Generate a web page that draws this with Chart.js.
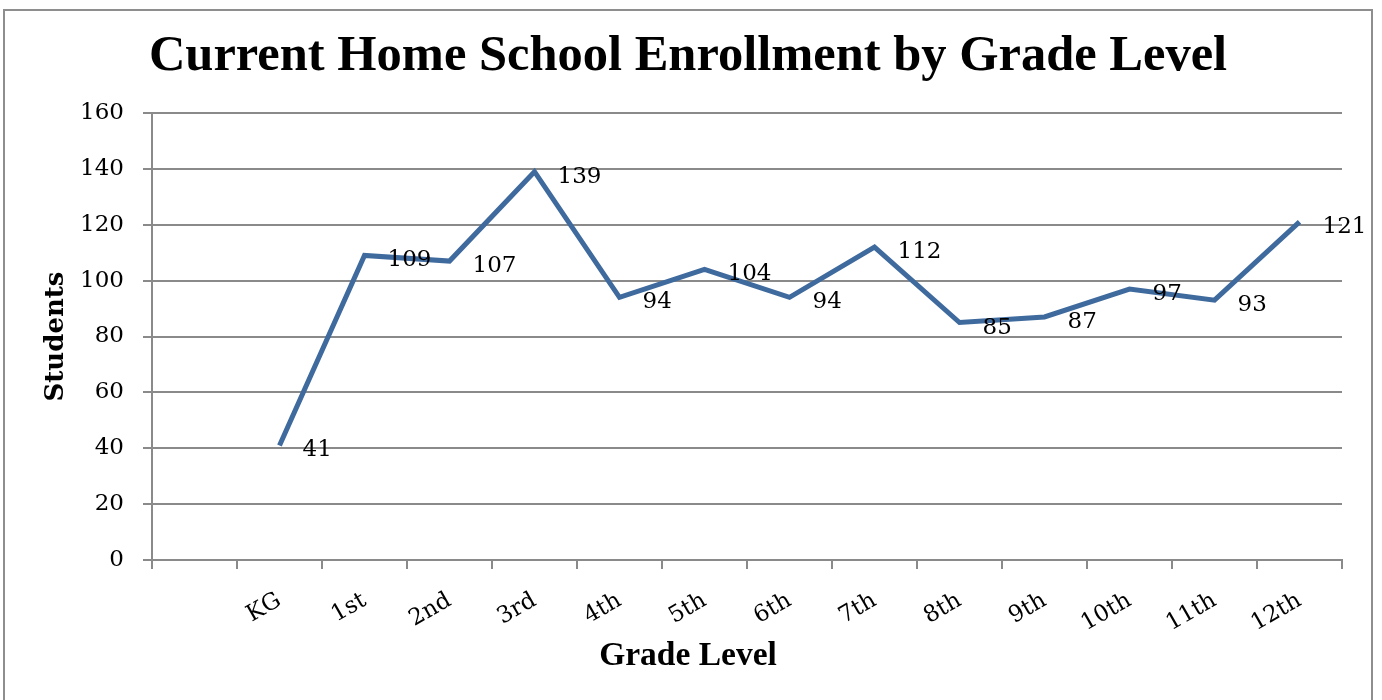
<!DOCTYPE html>
<html>
<head>
<meta charset="utf-8">
<title>Current Home School Enrollment by Grade Level</title>
<script src="https://cdn.jsdelivr.net/npm/chart.js@4/dist/chart.umd.min.js"></script>
<style>
  html, body { margin: 0; padding: 0; background: #fff; overflow: hidden; }
  #wrap { position: relative; width: 1382px; height: 700px; }
  #frame {
    position: absolute; left: 3px; top: 9px; width: 1366px; height: 760px;
    border: 2px solid #8e8e8e; pointer-events: none;
  }
</style>
</head>
<body>
<div id="wrap">
  <canvas id="chart"></canvas>
  <div id="frame"></div>
</div>
<script>
// ------- Data -------
// first slot is an empty category (the reference leaves a blank gap before KG)
const grades = ['', 'KG', '1st', '2nd', '3rd', '4th', '5th', '6th', '7th', '8th', '9th', '10th', '11th', '12th'];
const students = [null, 41, 109, 107, 139, 94, 104, 94, 112, 85, 87, 97, 93, 121];
const yTicks = [0, 20, 40, 60, 80, 100, 120, 140, 160];

const gridColor = '#8a8a8a';
const lineColor = '#3f6a9e';
const serif = '"DejaVu Serif", serif';
const timesLike = '"Liberation Serif", serif';

// value labels to the right of each point
const pointLabels = {
  id: 'pointLabels',
  afterDatasetsDraw(chart) {
    const ctx = chart.ctx;
    const meta = chart.getDatasetMeta(0);
    ctx.save();
    ctx.font = '23px ' + serif;
    ctx.fillStyle = '#000';
    ctx.textAlign = 'left';
    ctx.textBaseline = 'middle';
    meta.data.forEach((pt, i) => {
      const v = students[i];
      if (v == null) return;
      ctx.fillText(String(v), pt.x + 23, pt.y + 5);
    });
    ctx.restore();
  }
};

// x title is centred on the whole chart in the reference, so it goes in as a bottom subtitle
const xTitleFont = { family: timesLike, size: 33.5, weight: 'bold', lineHeight: 1.2 };
const xTitlePad = { top: 0, bottom: 24 };
const xTitleBox = xTitleFont.size * xTitleFont.lineHeight + xTitlePad.top + xTitlePad.bottom;

new Chart(document.getElementById('chart'), {
  type: 'line',
  data: {
    labels: grades,
    datasets: [{
      label: 'Students',
      data: students,
      borderColor: lineColor,
      borderWidth: 5,
      pointRadius: 0,
      pointHoverRadius: 0,
      tension: 0,
      fill: false
    }]
  },
  options: {
    responsive: true,
    maintainAspectRatio: false,
    animation: false,
    layout: { padding: { left: 34, right: 40, top: 0, bottom: 0 } },
    plugins: {
      legend: { display: false },
      tooltip: { enabled: false },
      title: {
        display: true,
        text: 'Current Home School Enrollment by Grade Level',
        color: '#000',
        font: { family: timesLike, size: 50.5, weight: 'bold', lineHeight: 1.2 },
        padding: { top: 27, bottom: 25.4 }
      },
      subtitle: {
        display: true,
        position: 'bottom',
        text: 'Grade Level',
        color: '#000',
        font: xTitleFont,
        padding: xTitlePad
      }
    },
    scales: {
      x: {
        offset: true,
        grid: { offset: true, drawOnChartArea: false, drawTicks: true, tickLength: 9, color: gridColor, lineWidth: 2 },
        border: { display: true, color: gridColor, width: 2 },
        ticks: {
          color: '#000',
          font: { family: serif, size: 23 },
          minRotation: 30, maxRotation: 30,
          autoSkip: false,
          padding: 18
        },
        afterFit(scale) { scale.height = 140 - xTitleBox; }
      },
      y: {
        min: 0,
        max: 160,
        afterBuildTicks(scale) { scale.ticks = yTicks.map(v => ({ value: v })); },
        grid: { color: gridColor, lineWidth: 2, tickLength: 9, drawTicks: true },
        border: { display: true, color: gridColor, width: 2 },
        ticks: {
          color: '#000',
          font: { family: serif, size: 23 },
          padding: 19
        },
        title: {
          display: true,
          text: 'Students',
          color: '#000',
          font: { family: serif, size: 26, weight: 'bold', lineHeight: 1.2 },
          padding: { top: 7, bottom: 0 }
        },
        afterFit(scale) { scale.width = 118; }
      }
    }
  },
  plugins: [pointLabels]
});
</script>
</body>
</html>
